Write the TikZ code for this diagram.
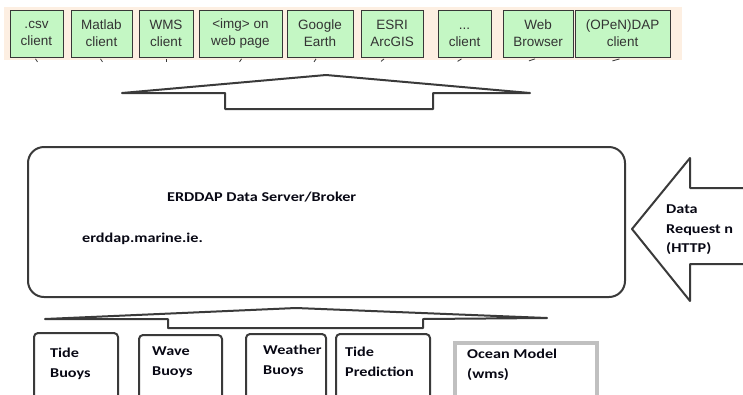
\documentclass[tikz,border=0pt]{standalone}
\usepackage{fontspec}
\setmainfont{Carlito}[FakeStretch=1.2]
\newfontfamily\clientfont{Liberation Sans}
\usetikzlibrary{calc}
\definecolor{bandpeach}{RGB}{253,239,226}
\definecolor{clientgreen}{RGB}{196,247,196}
\definecolor{clientedge}{RGB}{55,55,55}
\definecolor{clienttext}{RGB}{51,51,51}
\definecolor{sketchline}{RGB}{58,58,58}
\definecolor{modelgray}{RGB}{192,192,192}
\definecolor{inktext}{RGB}{8,8,20}
\begin{document}
\begin{tikzpicture}[x=1pt,y=-1pt,
  client/.style={draw=clientedge, line width=0.8pt, fill=clientgreen,
    minimum height=47pt, inner sep=0pt, align=center, text=clienttext,
    font=\clientfont\fontsize{13.5}{17}\selectfont},
  tickmark/.style={draw=clientedge, line width=0.8pt},
  outline/.style={draw=sketchline, line width=2pt, line join=round},
  label/.style={text=inktext, font=\bfseries\fontsize{13.5}{19.5}\selectfont,
    inner sep=0pt, align=left, anchor=north west},
  source/.style={outline, rounded corners=4pt, minimum height=70pt,
    anchor=north west, inner sep=0pt},
]
\useasboundingbox (0,0) rectangle (743,394);
\clip (0,0) rectangle (743,394);

% client strip
\fill[bandpeach] (4,7) rectangle (682,60);
\node[client, minimum width=53pt] (csv)    at (36.5,33.5)  {.csv\\client};
\node[client, minimum width=61pt] (matlab) at (101.5,33.5) {Matlab\\client};
\node[client, minimum width=54pt] (wms)    at (166,33.5)   {WMS\\client};
\node[client, minimum width=83pt] (img)    at (240.5,33.5) {<img> on\\web page};
\node[client, minimum width=66pt] (google) at (320,33.5)   {Google\\Earth};
\node[client, minimum width=62pt] (esri)   at (392,33.5)   {ESRI\\ArcGIS};
\node[client, minimum width=53pt] (other)  at (464.5,33.5) {\vphantom{Eg}...\\client};
\node[client, minimum width=70pt] (web)    at (538,33.5)   {Web\\Browser};
\node[client, minimum width=95pt] (dap)    at (622.5,33.5) {(OPeN)DAP\\client};

% stubs of the client links below the strip
\draw[tickmark] ($(csv.south)+(-1,1.5)$)    -- ++(2,3);
\draw[tickmark] ($(matlab.south)+(-1,1.5)$) -- ++(2,3);
\draw[tickmark] ($(wms.south)+(0,1.5)$)     -- ++(0,3);
\draw[tickmark] ($(img.south)+(1,1.5)$)     -- ++(-2,3);
\draw[tickmark] ($(google.south)+(-4,1.5)$) -- ++(-2,3);
\draw[tickmark] ($(esri.south)+(-8,1.5)$)   -- ++(-3,2.5);
\draw[tickmark] ($(other.south)+(-3,1.5)$)  -- ++(-4,2.5);
\draw[tickmark] ($(web.south)+(-3,1.5)$)    -- ++(-6,2);
\draw[tickmark] ($(dap.south)+(-3,1.5)$)    -- ++(-7,2);

% block arrow up to the clients
\draw[outline] (122,93) -- (326,75) -- (530,93) -- (433,93) -- (433,109)
  -- (225,109) -- (225,93) -- cycle;

% server
\node[outline, rounded corners=16pt, minimum width=597pt, minimum height=150pt,
  inner sep=0pt] (server) at (326.5,222) {};
\node[label] (servername) at (167,191.5) {ERDDAP Data Server/Broker};
\node[label] (serverhost) at (82,233) {erddap.marine.ie.};

% incoming request arrow
\draw[outline] (750,188) -- (690,188) -- (690,158) -- (632,229) -- (690,301)
  -- (690,264) -- (750,264);
\node[label] (request) at (666,205) {Data\\Request n\\(HTTP)};

% block arrow up from the sources
\draw[outline] (45,319) -- (296,308) -- (547,318) -- (423,319) -- (423,328)
  -- (168,328) -- (168,319) -- cycle;

% data sources
\node[source, minimum width=84pt] (tidebuoys)    at (33,332)  {};
\node[source, minimum width=83pt] (wavebuoys)    at (138,334) {};
\node[source, minimum width=80pt] (weatherbuoys) at (245,333) {};
\node[source, minimum width=94pt] (tidepred)     at (335,333) {};
\node[draw=modelgray, line width=4pt, minimum width=142pt, minimum height=70pt,
  anchor=north west, inner sep=0pt] (oceanmodel) at (453,341) {};

\node[label] at (50,348)  {Tide\\Buoys};
\node[label] at (152,347) {Wave\\Buoys};
\node[label] at (263,345) {Weather\\Buoys};
\node[label] at (345,347) {Tide\\Prediction};
\node[label] at (467,349) {Ocean Model\\(wms)};
\end{tikzpicture}
\end{document}
